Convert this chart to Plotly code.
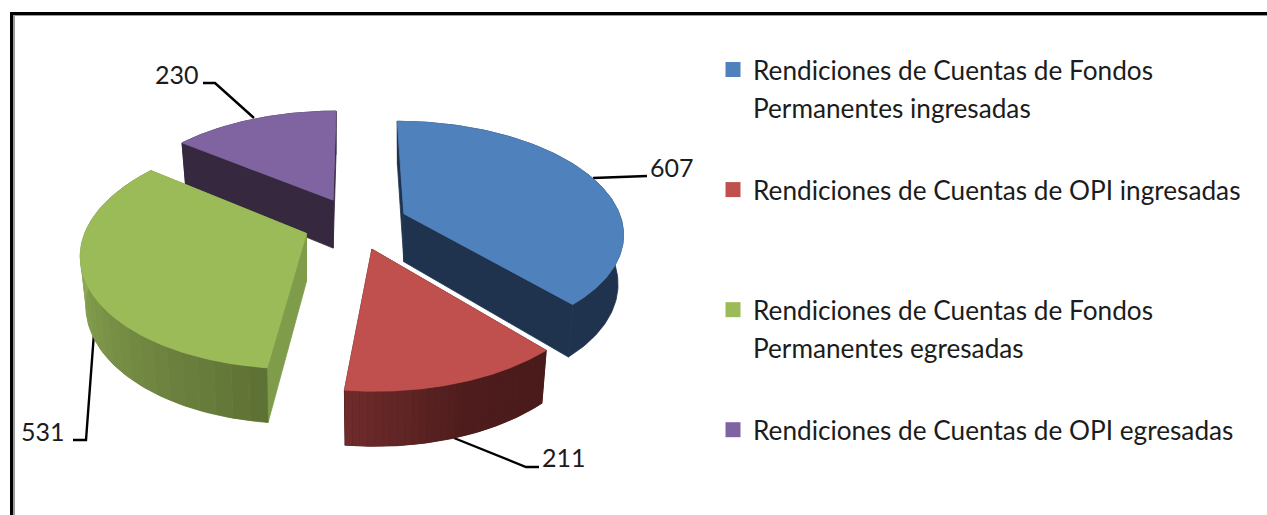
import numpy as np
import plotly.graph_objects as go

# ---- data ----
categories = [
    "Rendiciones de Cuentas de Fondos",
    "Rendiciones de Cuentas de OPI ingresadas",
    "Rendiciones de Cuentas de Fondos",
    "Rendiciones de Cuentas de OPI egresadas",
]
category_second_lines = ["Permanentes ingresadas", None, "Permanentes egresadas", None]
values = [607, 211, 531, 230]

# ---- style ----
top_colors = ["#4F81BD", "#C0504D", "#9BBB59", "#8064A2"]
side_colors = ["#1F334F", "#4C1B1B", "#7F9C4A", "#35283F"]
wall_ramps = [
    None,
    [(138.0, "#4A1A1A"), (160.0, "#4E1C1C"), (187.0, "#712C2C")],
    [(186.0, "#5E7035"), (270.0, "#8FAD55")],
    None,
]
FONT = "Lato"
TEXT = "#1c1c1c"
CX, CY, RX, RY = 355.5, 223.0, 218.5, 110.0
PERSP, EXPLODE = 0.16, 0.24
DEPTH, BOTTOM_X, BOTTOM_Y = 48.0, 0.975, 1.05
leaders = [
    ([593, 647], [178, 176]),
    ([454, 526, 539], [438, 467, 467]),
    ([94, 86, 73], [333, 440, 440]),
    ([254, 215, 203], [118, 83, 83]),
]
label_pos = [(672, 167), (564, 457), (43, 431), (177, 74)]
second_line_pos = [(751, 108), None, (751, 348), None]

# ---- geometry from the values ----
total = sum(values)
edges = np.cumsum([0] + values) / total * 360.0


def project(theta_deg, radius, mid_deg):
    t, m = np.radians(theta_deg), np.radians(mid_deg)
    wx = EXPLODE * np.sin(m) + radius * np.sin(t)
    wy = -EXPLODE * np.cos(m) - radius * np.cos(t)
    s = 1.0 / (1.0 - PERSP * wy)
    return CX + RX * wx * s, CY + RY * wy * s


def lower(x, y, ax, ay):
    return ax + (x - ax) * BOTTOM_X, ay + DEPTH + (y - ay) * BOTTOM_Y


def hex_mix(c1, c2, f):
    a = [int(c1[i:i + 2], 16) for i in (1, 3, 5)]
    b = [int(c2[i:i + 2], 16) for i in (1, 3, 5)]
    return "#%02x%02x%02x" % tuple(round(p + (q - p) * f) for p, q in zip(a, b))


def ramp(stops, th):
    if th <= stops[0][0]:
        return stops[0][1]
    for (t0, c0), (t1, c1) in zip(stops, stops[1:]):
        if th <= t1:
            return hex_mix(c0, c1, (th - t0) / (t1 - t0))
    return stops[-1][1]


fig = go.Figure()


def poly(xs, ys, color, lw=0.8):
    xs, ys = list(xs), list(ys)
    fig.add_trace(go.Scatter(
        x=xs + xs[:1], y=ys + ys[:1], mode="lines", fill="toself", fillcolor=color,
        line=dict(color=color, width=lw), showlegend=False, hoverinfo="skip"))


# legend entries first
for i, (name, col) in enumerate(zip(categories, top_colors)):
    fig.add_trace(go.Scatter(
        x=[None], y=[None], mode="markers", name=name, legendgroup=f"g{i}",
        marker=dict(symbol="square", size=15, color=col)))

# leader lines under the slices
for lx, ly in leaders:
    fig.add_trace(go.Scatter(x=lx, y=ly, mode="lines", showlegend=False,
                             hoverinfo="skip", line=dict(color="#000000", width=2.4)))

# back-to-front painting order
for i in [3, 0, 2, 1]:
    a0, a1 = edges[i], edges[i + 1]
    mid = (a0 + a1) / 2
    ax, ay = project(0, 0, mid)
    th = np.linspace(a0, a1, 121)
    tx, ty = project(th, 1.0, mid)
    bx, by = lower(tx, ty, ax, ay)
    lax, lay = lower(ax, ay, ax, ay)
    # radial faces
    for k in (0, -1):
        poly([ax, tx[k], bx[k], lax], [ay, ty[k], by[k], lay], side_colors[i])
    # outer wall: solid base, then gradient bands without outlines on top
    wall_x, wall_y = list(tx) + list(bx[::-1]), list(ty) + list(by[::-1])
    if wall_ramps[i] is None:
        poly(wall_x, wall_y, side_colors[i])
    else:
        poly(wall_x, wall_y, ramp(wall_ramps[i], (a0 + min(a1, 270.0)) / 2))
        step = 4
        for j in range(0, len(th) - 1, step):
            e = min(j + step, len(th) - 1)
            poly([*tx[j:e + 1], *bx[j:e + 1][::-1]], [*ty[j:e + 1], *by[j:e + 1][::-1]],
                 ramp(wall_ramps[i], (th[j] + th[e]) / 2), lw=0)
    # top face
    poly([ax, *tx], [ay, *ty], top_colors[i])

annotations = [
    dict(x=p[0], y=p[1], text=str(v), showarrow=False, xref="x", yref="y",
         font=dict(family=FONT, size=25, color=TEXT))
    for p, v in zip(label_pos, values)
]
annotations += [
    dict(x=p[0], y=p[1], text=t, showarrow=False, xref="x", yref="y", xanchor="left",
         font=dict(family=FONT, size=26.2, color=TEXT))
    for p, t in zip(second_line_pos, category_second_lines) if t
]

frame = [
    dict(type="rect", x0=13, x1=15, y0=15, y1=515, fillcolor="#9a9a9a", line_width=0, layer="below"),
    dict(type="rect", x0=13, x1=1267, y0=15, y1=16, fillcolor="#9a9a9a", line_width=0, layer="below"),
    dict(type="rect", x0=10, x1=13, y0=12, y1=515, fillcolor="#000000", line_width=0, layer="below"),
    dict(type="rect", x0=10, x1=1267, y0=12, y1=15, fillcolor="#000000", line_width=0, layer="below"),
]

fig.update_layout(
    width=1267, height=515, margin=dict(l=0, r=0, t=0, b=0),
    paper_bgcolor="#ffffff", plot_bgcolor="#ffffff",
    xaxis=dict(range=[0, 1267], visible=False, fixedrange=True),
    yaxis=dict(range=[515, 0], visible=False, fixedrange=True),
    annotations=annotations, shapes=frame,
    legend=dict(x=713 / 1267, y=1 - 46 / 515, xanchor="left", yanchor="top",
                font=dict(family=FONT, size=26.2, color=TEXT),
                bgcolor="rgba(0,0,0,0)", tracegroupgap=83, itemclick=False,
                itemdoubleclick=False),
)

fig.write_html("out.html", config={"displayModeBar": False},
               post_script="document.body.style.margin='0';")
